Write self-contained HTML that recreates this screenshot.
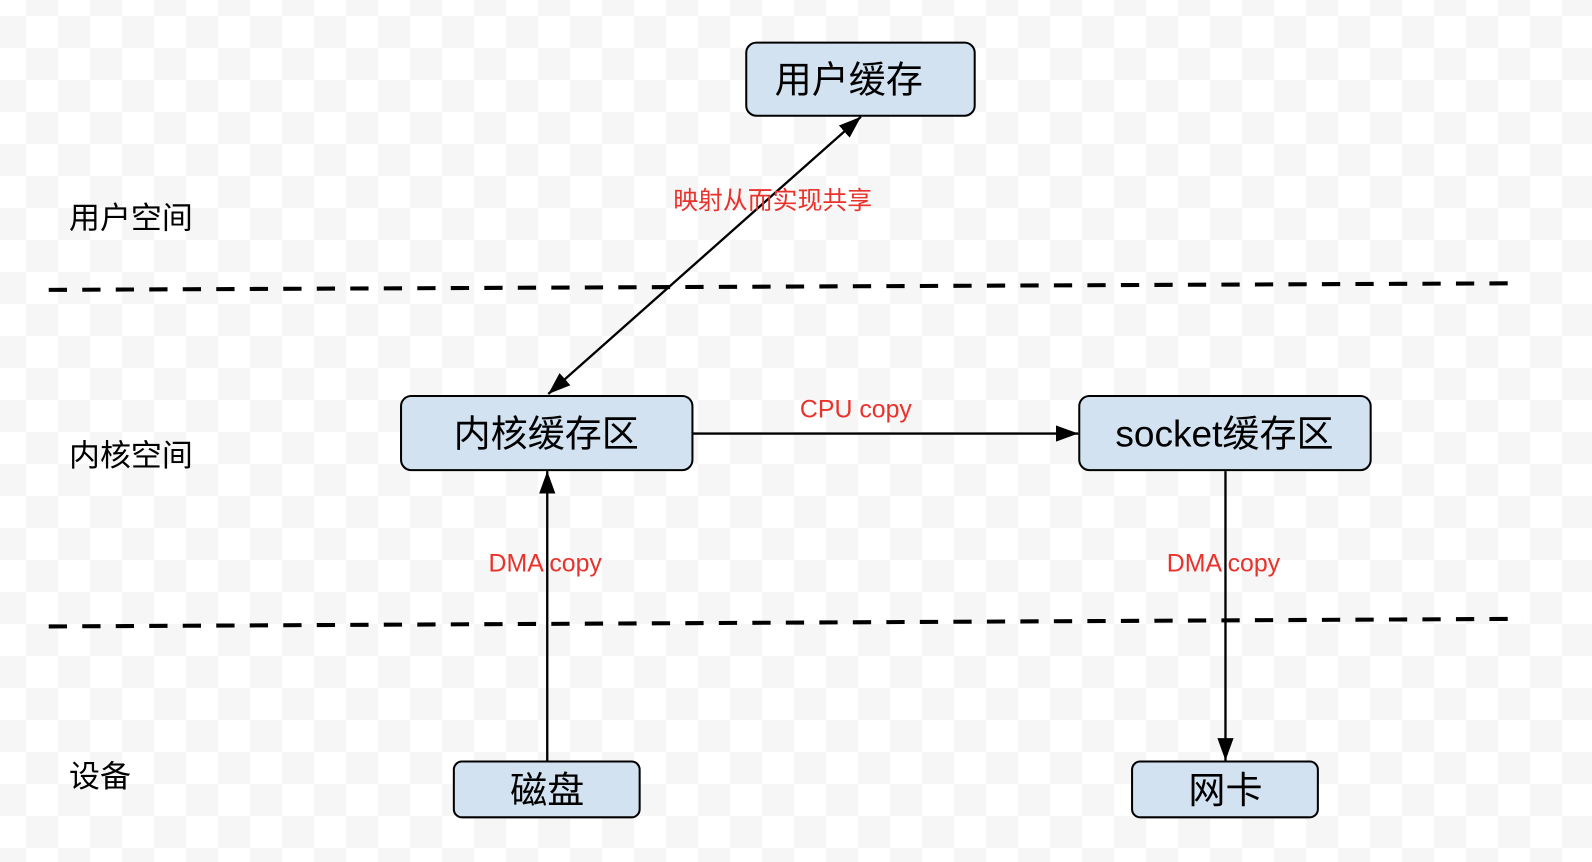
<!DOCTYPE html>
<html><head><meta charset="utf-8"><style>
html,body{margin:0;padding:0;background:#fff}
svg{display:block}
text{font-family:"Liberation Sans","Noto Sans CJK SC",sans-serif}
</style></head><body>
<svg width="1592" height="862" xmlns="http://www.w3.org/2000/svg">
<defs>
<pattern id="ck" x="-6" y="-16" width="64" height="64" patternUnits="userSpaceOnUse">
<rect width="64" height="64" fill="#fff"/>
<rect x="32" y="0" width="32" height="32" fill="#f6f6f6"/>
<rect x="0" y="32" width="32" height="32" fill="#f6f6f6"/>
</pattern>
<marker id="a" viewBox="0 0 22 16" refX="22" refY="8" markerWidth="22" markerHeight="16" orient="auto-start-reverse" markerUnits="userSpaceOnUse">
<path d="M0,0 L22,8 L0,16 z" fill="#000"/>
</marker>
</defs>
<rect width="1592" height="862" fill="url(#ck)"/>
<svg x="0" y="0" width="1592" height="862" viewBox="0 0 1568 849" preserveAspectRatio="none">
<g stroke="#000" stroke-width="4" stroke-dasharray="18 15" fill="none">
<line x1="48" y1="285.5" x2="1500" y2="279"/>
<line x1="48" y1="617" x2="1500" y2="609.5"/>
</g>
<g stroke="#000" stroke-width="2.3" fill="none">
<line x1="540" y1="388" x2="848" y2="115" marker-start="url(#a)" marker-end="url(#a)"/>
<line x1="683" y1="427" x2="1062" y2="427" marker-end="url(#a)"/>
<line x1="539" y1="749" x2="539" y2="464" marker-end="url(#a)"/>
<line x1="1207" y1="464" x2="1207" y2="749" marker-end="url(#a)"/>
</g>
<g fill="#d2e2f1" stroke="#000" stroke-width="2">
<rect x="735" y="42" width="225" height="72" rx="10"/>
<rect x="395" y="390" width="287" height="73" rx="10"/>
<rect x="1063" y="390" width="287" height="73" rx="10"/>
<rect x="447" y="750" width="183" height="55" rx="8"/>
<rect x="1115" y="750" width="183" height="55" rx="8"/>
</g>
<g font-size="36.5" text-anchor="middle" fill="#000">
<text x="836" y="91">用户缓存</text>
<text x="538" y="440">内核缓存区</text>
<text x="1206" y="440">socket缓存区</text>
<text x="539" y="791">磁盘</text>
<text x="1207" y="791">网卡</text>
</g>
<g font-size="30.5" fill="#000">
<text x="68" y="225">用户空间</text>
<text x="68" y="459">内核空间</text>
<text x="68" y="775">设备</text>
</g>
<g font-size="24.5" fill="#e8322b" text-anchor="middle">
<text x="761" y="206">映射从而实现共享</text>
<text x="843" y="411">CPU copy</text>
<text x="537" y="563">DMA copy</text>
<text x="1205" y="563">DMA copy</text>
</g>
</svg>
</svg>
</body></html>
